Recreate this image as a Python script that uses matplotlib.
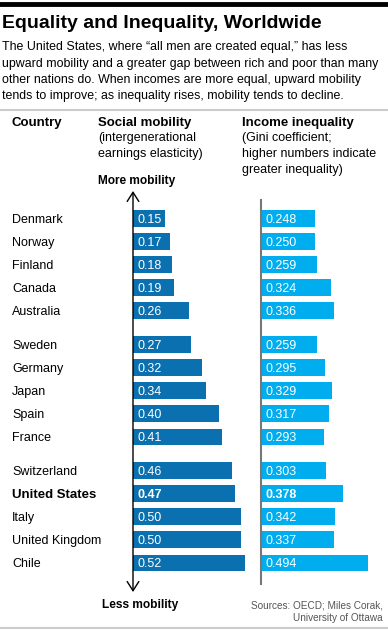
import matplotlib
matplotlib.use('Agg')
import matplotlib.pyplot as plt
from matplotlib.transforms import blended_transform_factory

plt.rcParams['font.family'] = ['Liberation Sans', 'DejaVu Sans']

DARK_BLUE = '#0a70b0'
LIGHT_BLUE = '#00adef'
GRAY_LINE = '#cccccc'

countries = ['Denmark', 'Norway', 'Finland', 'Canada', 'Australia',
             'Sweden', 'Germany', 'Japan', 'Spain', 'France',
             'Switzerland', 'United States', 'Italy', 'United Kingdom', 'Chile']
groups = [0, 0, 0, 0, 0, 1, 1, 1, 1, 1, 2, 2, 2, 2, 2]
mobility = [0.15, 0.17, 0.18, 0.19, 0.26,
            0.27, 0.32, 0.34, 0.40, 0.41,
            0.46, 0.47, 0.50, 0.50, 0.52]
gini = [0.248, 0.250, 0.259, 0.324, 0.336,
        0.259, 0.295, 0.329, 0.317, 0.293,
        0.303, 0.378, 0.342, 0.337, 0.494]
highlight = 'United States'

W, H = 388, 630
fig = plt.figure(figsize=(W / 100, H / 100), dpi=100, facecolor='white')


def fx(px):
    return px / W


def fy(py):
    return 1 - py / H


# header
fig.add_artist(plt.Line2D([0, 1], [fy(3.5), fy(3.5)], color='black', lw=3.5))
fig.text(fx(2), fy(28), 'Equality and Inequality, Worldwide', fontsize=14,
         fontweight='bold', va='baseline')
subtitle = ['The United States, where \u201call men are created equal,\u201d has less',
            'upward mobility and a greater gap between rich and poor than many',
            'other nations do. When incomes are more equal, upward mobility',
            'tends to improve; as inequality rises, mobility tends to decline.']
for i, line in enumerate(subtitle):
    fig.text(fx(2), fy(50 + i * 16.5), line, fontsize=8.95, va='baseline')
fig.add_artist(plt.Line2D([0, 1], [fy(110), fy(110)], color=GRAY_LINE, lw=1.5))

# column headers
fig.text(fx(12), fy(126), 'Country', fontsize=9.5, fontweight='bold', va='baseline')
fig.text(fx(98), fy(126), 'Social mobility', fontsize=9.5, fontweight='bold', va='baseline')
for i, line in enumerate(['(intergenerational', 'earnings elasticity)']):
    fig.text(fx(98), fy(141.5 + i * 15.5), line, fontsize=9, va='baseline')
fig.text(fx(242), fy(126), 'Income inequality', fontsize=9.5, fontweight='bold', va='baseline')
for i, line in enumerate(['(Gini coefficient;', 'higher numbers indicate', 'greater inequality)']):
    fig.text(fx(242), fy(141.5 + i * 15.5), line, fontsize=9, va='baseline')
fig.text(fx(98), fy(183.5), 'More mobility', fontsize=8.6, fontweight='bold', va='baseline')
fig.text(fx(140), fy(608), 'Less mobility', fontsize=8.6, fontweight='bold', va='baseline', ha='center')
fig.text(fx(383), fy(608), 'Sources: OECD; Miles Corak,', fontsize=7.2, color='#555555',
         va='baseline', ha='right')
fig.text(fx(383), fy(621), 'University of Ottawa', fontsize=7.2, color='#555555',
         va='baseline', ha='right')
fig.add_artist(plt.Line2D([0, 1], [fy(628), fy(628)], color=GRAY_LINE, lw=1.5))

# row positions: one unit per row, extra gap between groups
ypos = [i + 0.455 * g for i, g in enumerate(groups)]
row_px = 23.1
top_px, bot_px = 188, 596
y_top = (top_px - 218.3) / row_px
y_bot = (bot_px - 218.3) / row_px

px_per_unit = 216
panel_w = 122
ax_l = fig.add_axes([fx(133), fy(bot_px), fx(panel_w), (bot_px - top_px) / H])
ax_r = fig.add_axes([fx(261), fy(bot_px), fx(panel_w), (bot_px - top_px) / H])

for ax, vals, color, fmt in [(ax_l, mobility, DARK_BLUE, '{:.2f}'),
                             (ax_r, gini, LIGHT_BLUE, '{:.3f}')]:
    ax.barh(ypos, vals, height=0.71, color=color, left=0)
    ax.set_xlim(0, panel_w / px_per_unit)
    ax.set_ylim(y_bot, y_top)
    ax.axis('off')
    for y, v, c in zip(ypos, vals, countries):
        ax.text(5 / px_per_unit, y, fmt.format(v), color='white', fontsize=9,
                va='center_baseline', fontweight='bold' if c == highlight else 'normal')

# country labels
trans = blended_transform_factory(fig.transFigure, ax_l.transData)
for y, c in zip(ypos, countries):
    ax_l.text(fx(12), y, c, transform=trans, fontsize=9.5 if c == highlight else 9,
              va='center_baseline', fontweight='bold' if c == highlight else 'normal')

# axis lines
ax_l.annotate('', xy=(0, (191 - 218.3) / row_px), xytext=(0, (592 - 218.3) / row_px),
              arrowprops=dict(arrowstyle='<->,head_length=0.55,head_width=0.35',
                              color='black', lw=1, mutation_scale=12,
                              shrinkA=0, shrinkB=0), annotation_clip=False)
ax_r.plot([0, 0], [(200 - 218.3) / row_px, (584 - 218.3) / row_px], color='#777777',
          lw=1.5, clip_on=False)

fig.savefig('out.png', dpi=100, facecolor='white')
